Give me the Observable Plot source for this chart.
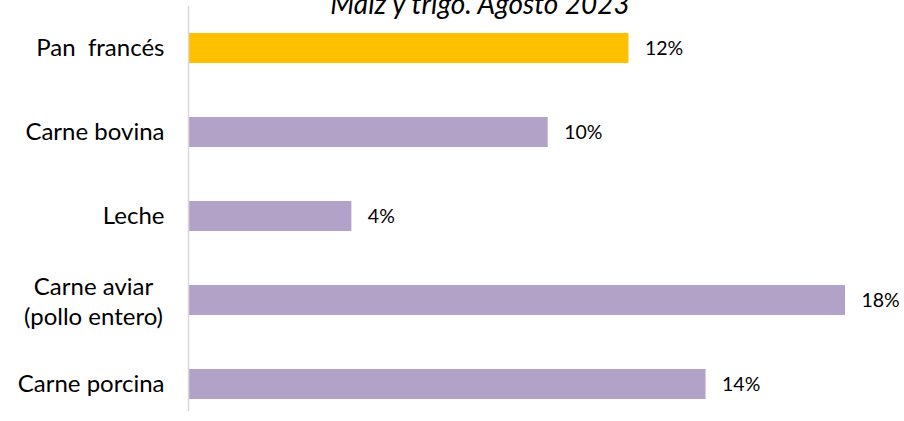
<!DOCTYPE html>
<html>
<head>
<meta charset="utf-8">
<script src="https://cdn.jsdelivr.net/npm/d3@7"></script>
<script src="https://cdn.jsdelivr.net/npm/@observablehq/plot@0.6"></script>
<style>
  html, body { margin: 0; padding: 0; background: #fff; }
</style>
</head>
<body>
<div id="chart"></div>
<script>
const title = "Maíz y trigo. Agosto 2023";
const categories = ["Pan  francés", "Carne bovina", "Leche", "Carne aviar\n(pollo entero)", "Carne porcina"];
const values = [12.0, 9.8, 4.45, 17.9, 14.1];
const colors = ["#FFC000", "#B3A2C7", "#B3A2C7", "#B3A2C7", "#B3A2C7"];

const data = categories.map((c, i) => ({cat: c, value: values[i], color: colors[i]}));
const singleLine = categories.filter(c => !c.includes("\n"));
const multiLine = categories.filter(c => c.includes("\n"));

const chart = Plot.plot({
  width: 904,
  height: 421,
  marginLeft: 188,
  marginRight: 59,
  marginTop: 24,
  marginBottom: 12,
  style: {fontFamily: "Lato, sans-serif", fontSize: "24px", color: "#000", background: "#fff", overflow: "visible"},
  x: {domain: [0, d3.max(values)], axis: null},
  y: {domain: categories, paddingInner: 0.64, paddingOuter: 0.1, label: null},
  marks: [
    Plot.barX(data, {y: "cat", x: "value", fill: "color"}),
    Plot.ruleX([0], {stroke: "#d9d9d9", strokeWidth: 1.5, insetTop: -18, insetBottom: -2}),
    Plot.axisY({ticks: singleLine, tickSize: 0, tickPadding: 24, fontSize: 24, textAnchor: "end", fill: "#000"}),
    Plot.axisY({ticks: multiLine, tickSize: 0, tickPadding: 95, fontSize: 24, textAnchor: "middle", fill: "#000", lineHeight: 1.25}),
    Plot.text(data, {y: "cat", x: "value", text: d => Math.round(d.value) + "%", textAnchor: "start", dx: 16, fontSize: 19.5, fill: "#000"}),
    Plot.text([title], {frameAnchor: "top", text: d => d, dx: -37, dy: -11, lineAnchor: "bottom", fontSize: 28, fontStyle: "italic", fill: "#000"})
  ]
});
document.getElementById("chart").appendChild(chart);
</script>
</body>
</html>
